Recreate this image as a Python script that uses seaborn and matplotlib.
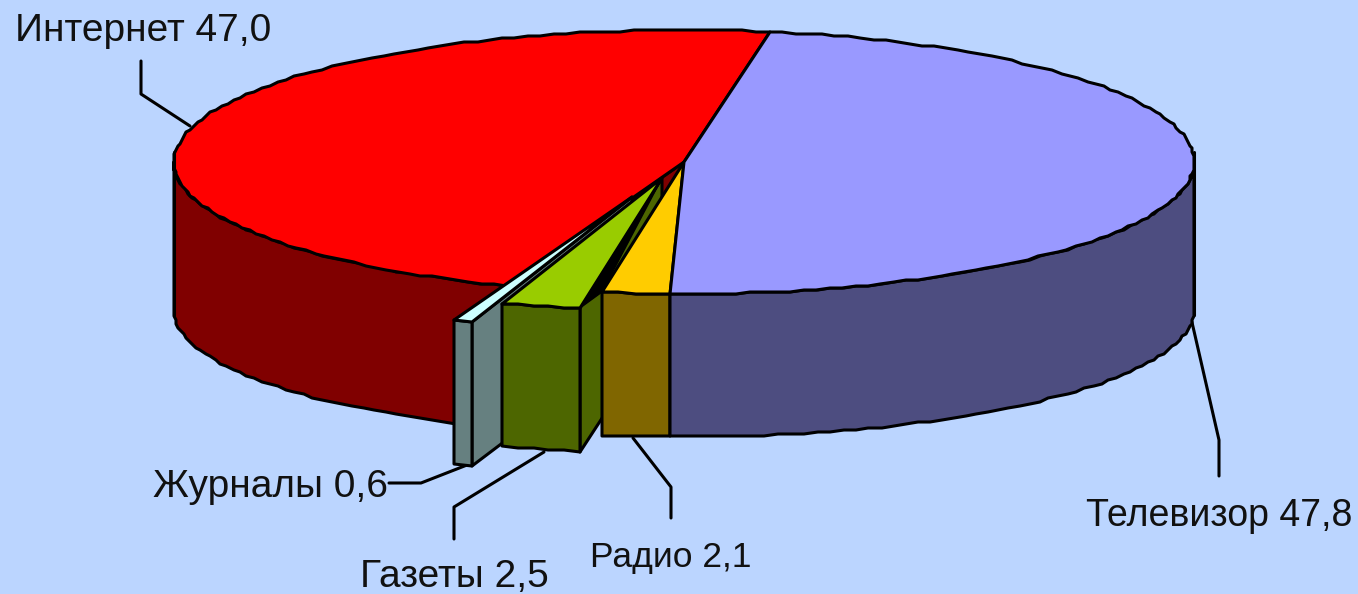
import numpy as np
import seaborn as sns
import matplotlib.pyplot as plt

# media shares, clockwise from the top of the pie
names = ['Телевизор', 'Радио', 'Газеты', 'Журналы', 'Интернет']
shares = [47.8, 2.1, 2.5, 0.6, 47.0]
top_colors = ['#9999FF', '#FFCC00', '#99CC00', '#CCFFFF', '#FF0000']
side_colors = ['#4D4D80', '#806600', '#4D6600', '#668080', '#800000']

BG = '#BBD5FF'
CX, CY, RX, RY = 684, 162, 510, 132
BOT_CY, BOT_RY = 310, 127
START = 80.4
LW = 2.2

# pulled out slices, pixels
shift = {'Газеты': (-22, 16), 'Журналы': (-52, 35)}

# label position (left, baseline), size and leader line
labels = {
    'Телевизор': (1086, 526, 27, [(1191, 318), (1219, 440), (1219, 476)]),
    'Радио': (590, 567, 25.5, [(633, 438), (671, 487), (671, 518)]),
    'Газеты': (360, 587, 28, [(544, 452), (454, 507), (454, 539)]),
    'Журналы': (153, 497, 28, [(467, 465), (421, 483), (389, 483)]),
    'Интернет': (15, 41, 28, [(141, 61), (141, 94), (190, 126)]),
}


def arc(a0, a1, cy=CY, ry=RY, dx=0, dy=0):
    # coarse steps and rounding give the rough edge of the original
    n = max(2, int(abs(a1 - a0) / 1.5))
    t = np.radians(np.linspace(a0, a1, n))
    x = CX + dx + RX * np.cos(t)
    y = cy + dy - ry * np.sin(t)
    return np.round(x / 2) * 2, np.round(y / 2) * 2


def poly(ax, x, y, color, z):
    ax.fill(x, y, facecolor=color, edgecolor='black', lw=LW, joinstyle='round', zorder=z)


def side(ax, a0, a1, color, z, dx=0, dy=0):
    x, y = arc(a0, a1, dx=dx, dy=dy)
    xb, yb = arc(a0, a1, BOT_CY, BOT_RY, dx, dy)
    poly(ax, np.r_[x, xb[::-1]], np.r_[y, yb[::-1]], color, z)


def top(ax, a0, a1, color, z, dx=0, dy=0):
    x, y = arc(a0, a1, dx=dx, dy=dy)
    poly(ax, np.r_[CX + dx, x], np.r_[CY + dy, y], color, z)


def cut(ax, a, color, z, dx=0, dy=0):
    # the flat inner face of a slice, from rim to centre
    x, y = arc(a, a, dx=dx, dy=dy)
    xb, yb = arc(a, a, BOT_CY, BOT_RY, dx, dy)
    px = [CX + dx, x[0], xb[0], CX + dx]
    py = [CY + dy, y[0], yb[0], BOT_CY + dy]
    poly(ax, px, py, color, z)


sns.set_theme(style='white')
plt.rcParams['font.family'] = ['Liberation Sans', 'DejaVu Sans']

fig, ax = plt.subplots(figsize=(13.58, 5.94), dpi=100)
fig.patch.set_facecolor(BG)
ax.set_position([0, 0, 1, 1])
ax.set_xlim(0, 1358)
ax.set_ylim(594, 0)
ax.axis('off')

# slice edges in degrees, going clockwise
edges = START - np.r_[0, np.cumsum(shares)] * 3.6
a = dict(zip(names, zip(edges[:-1], edges[1:])))

# internet first, everything else stands in front of it
a0, a1 = a['Интернет']
cut(ax, a0, side_colors[4], 1)
side(ax, a0, -180, side_colors[4], 2)
top(ax, a0, a1, top_colors[4], 3)

# journals
a0, a1 = a['Журналы']
dx, dy = shift['Журналы']
cut(ax, a0, side_colors[3], 4, dx, dy)
side(ax, a0, a1, side_colors[3], 5, dx, dy)
top(ax, a0, a1, top_colors[3], 6, dx, dy)

# newspapers
a0, a1 = a['Газеты']
dx, dy = shift['Газеты']
cut(ax, a0, side_colors[2], 7, dx, dy)
side(ax, a0, a1, side_colors[2], 8, dx, dy)
top(ax, a0, a1, top_colors[2], 9, dx, dy)

# black wedge between newspapers and radio, above the dark face
x0, y0 = arc(a0, a0, dx=dx, dy=dy)
x1, y1 = arc(a['Радио'][1], a['Радио'][1])
ax.fill([x0[0], CX + dx, x1[0]], [y0[0], CY + dy, y1[0]], color='black', zorder=9.5)

# radio
a0, a1 = a['Радио']
side(ax, a0, a1, side_colors[1], 10)
top(ax, a0, a1, top_colors[1], 11)

# tv
a0, a1 = a['Телевизор']
side(ax, a1, 0, side_colors[0], 12)
top(ax, a0, a1, top_colors[0], 13)

# vertical rims at both ends run a bit past the ellipses
for x in (CX - RX, CX + RX):
    ax.plot([x, x], [CY - 10, BOT_CY + 5], color='black', lw=LW, zorder=14)

for name, share in zip(names, shares):
    x, y, size, line = labels[name]
    ax.text(x, y, f'{name} {share:.1f}'.replace('.', ','), fontsize=size,
            va='baseline', ha='left', color='#111111', zorder=20)
    lx, ly = zip(*line)
    ax.plot(lx, ly, color='black', lw=LW, zorder=1)

fig.savefig('out.png', dpi=100, facecolor=BG)
